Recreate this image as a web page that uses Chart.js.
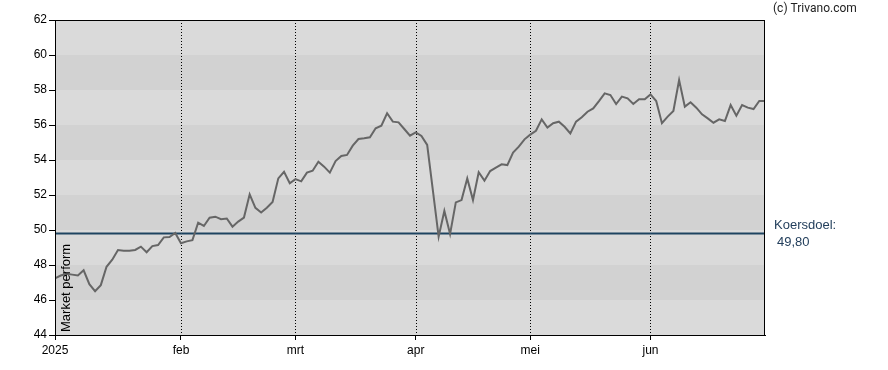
<!DOCTYPE html>
<html>
<head>
<meta charset="utf-8">
<script src="https://cdn.jsdelivr.net/npm/chart.js@4/dist/chart.umd.min.js"></script>
<style>
  body { margin: 0; background: #fff; }
  #wrap { width: 888px; height: 370px; }
</style>
</head>
<body>
<div id="wrap"><canvas id="chart" width="888" height="370"></canvas></div>
<script>
// koersdata 2025 (handelsdagen)
const monthLabels = ['2025', 'feb', 'mrt', 'apr', 'mei', 'jun'];
const monthStartIdx = [0, 22, 42, 63, 83, 104];
const lastIdx = 124;

const prices = [
  47.24, 47.40, 47.50, 47.45, 47.40, 47.70, 46.90, 46.50, 46.85, 47.90,
  48.30, 48.86, 48.82, 48.82, 48.86, 49.05, 48.73, 49.08, 49.14, 49.58,
  49.60, 49.83, 49.24, 49.35, 49.42, 50.42, 50.23, 50.70, 50.76, 50.62,
  50.66, 50.19, 50.48, 50.71, 52.04, 51.27, 51.00, 51.27, 51.60, 52.95,
  53.33, 52.67, 52.91, 52.78, 53.28, 53.39, 53.90, 53.62, 53.28, 53.94,
  54.23, 54.29, 54.82, 55.20, 55.24, 55.30, 55.81, 55.96, 56.67, 56.19,
  56.15, 55.77, 55.39, 55.58, 55.37, 54.86, 52.25, 49.62, 51.09, 49.77,
  51.58, 51.71, 52.95, 51.71, 53.30, 52.82, 53.37, 53.56, 53.75, 53.71,
  54.42, 54.76, 55.18, 55.45, 55.67, 56.32, 55.85, 56.10, 56.19, 55.90,
  55.52, 56.19, 56.44, 56.76, 56.95, 57.37, 57.81, 57.71, 57.20, 57.62,
  57.52, 57.20, 57.47, 57.47, 57.75, 57.37, 56.10, 56.48, 56.80, 58.57,
  57.05, 57.30, 56.99, 56.61, 56.38, 56.13, 56.32, 56.23, 57.14, 56.53,
  57.14, 56.99, 56.91, 57.37, 57.37
];

const targetPrice = 49.80;
const targetLabel = '49,80';
const adviceLabel = 'Market perform';
const yMin = 44, yMax = 62, yStep = 2;

const FONT = "'Liberation Sans', Arial, sans-serif";

// grijze banden + gestippelde maandlijnen + kader + teksten
const decorPlugin = {
  id: 'decor',
  beforeDatasetsDraw(chart) {
    const { ctx, chartArea: a, scales } = chart;
    const y = scales.y, x = scales.x;
    ctx.save();
    for (let v = yMin, k = 0; v < yMax; v += yStep, k++) {
      const top = y.getPixelForValue(v + yStep);
      const bot = y.getPixelForValue(v);
      ctx.fillStyle = (k % 2 === 0) ? '#dadada' : '#d2d2d2';
      ctx.fillRect(a.left, top, a.right - a.left, bot - top);
    }
    ctx.strokeStyle = '#000';
    ctx.lineWidth = 1;
    ctx.setLineDash([1, 2]);
    monthStartIdx.forEach(idx => {
      if (idx === 0) return;
      const px = Math.round(x.getPixelForValue(idx)) + 0.5;
      ctx.beginPath();
      ctx.moveTo(px, a.top);
      ctx.lineTo(px, a.bottom);
      ctx.stroke();
    });
    ctx.restore();
  },
  afterDatasetsDraw(chart) {
    const { ctx, chartArea: a, scales } = chart;
    ctx.save();
    ctx.strokeStyle = '#000';
    ctx.lineWidth = 1;
    ctx.strokeRect(a.left + 0.5, a.top + 0.5, a.right - a.left - 1, a.bottom - a.top);

    // advies, verticaal
    ctx.save();
    ctx.translate(a.left + 15, a.bottom - 3);
    ctx.rotate(-Math.PI / 2);
    ctx.fillStyle = '#000';
    ctx.font = '13px ' + FONT;
    ctx.textAlign = 'left';
    ctx.textBaseline = 'alphabetic';
    ctx.fillText(adviceLabel, 0, 0);
    ctx.restore();

    // koersdoel rechts
    const ty = scales.y.getPixelForValue(targetPrice);
    ctx.fillStyle = '#233f5c';
    ctx.font = '13px ' + FONT;
    ctx.textAlign = 'left';
    ctx.textBaseline = 'middle';
    ctx.fillText('Koersdoel:', a.right + 9, ty - 8);
    ctx.fillText(targetLabel, a.right + 12, ty + 9);

    ctx.fillStyle = '#222';
    ctx.font = '12px Roboto, ' + FONT;
    ctx.fillText('(c) Trivano.com', a.right + 8, 9);
    ctx.restore();
  }
};

const ctx = document.getElementById('chart').getContext('2d');
new Chart(ctx, {
  type: 'line',
  data: {
    datasets: [
      {
        label: 'koers',
        data: prices.map((v, i) => ({ x: i, y: v })),
        borderColor: '#666666',
        borderWidth: 2,
        pointRadius: 0,
        tension: 0,
        fill: false
      },
      {
        label: 'koersdoel',
        data: [{ x: 0, y: targetPrice }, { x: lastIdx, y: targetPrice }],
        borderColor: '#1e4461',
        borderWidth: 2,
        pointRadius: 0,
        fill: false
      }
    ]
  },
  options: {
    responsive: false,
    animation: false,
    layout: { padding: { top: 20, right: 123, left: 0, bottom: 0 } },
    plugins: {
      legend: { display: false },
      tooltip: { enabled: false }
    },
    scales: {
      x: {
        type: 'linear',
        min: 0,
        max: lastIdx,
        afterBuildTicks(scale) {
          scale.ticks = monthStartIdx.map(v => ({ value: v }));
        },
        afterFit(scale) { scale.height = 35; },
        grid: { drawOnChartArea: false, tickLength: 5, color: '#000' },
        border: { color: '#000' },
        ticks: {
          autoSkip: false,
          maxRotation: 0,
          padding: 3,
          color: '#000',
          font: { family: FONT, size: 12 },
          callback: (value, index) => monthLabels[index]
        }
      },
      y: {
        min: yMin,
        max: yMax,
        afterFit(scale) { scale.width = 55; },
        grid: { drawOnChartArea: false, tickLength: 6, color: '#000' },
        border: { color: '#000' },
        ticks: {
          stepSize: yStep,
          padding: 2,
          color: '#000',
          font: { family: FONT, size: 12 }
        }
      }
    }
  },
  plugins: [decorPlugin]
});
</script>
</body>
</html>
